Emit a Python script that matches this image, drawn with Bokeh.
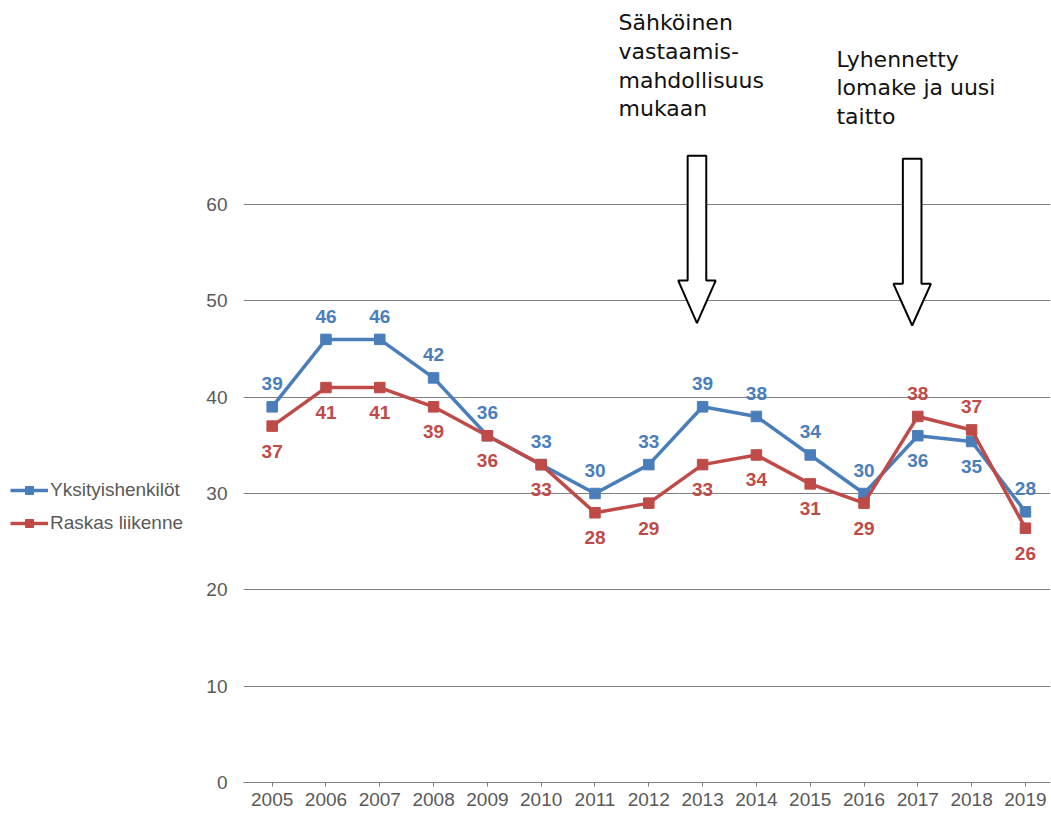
from bokeh.plotting import figure
from bokeh.layouts import row
from bokeh.models import Range1d, FixedTicker, Legend, LegendItem, ColumnDataSource
from bokeh.core.properties import value
from bokeh.embed import file_html
from bokeh.resources import INLINE

# ---------------- data ----------------
years = [2005, 2006, 2007, 2008, 2009, 2010, 2011, 2012, 2013, 2014, 2015, 2016, 2017, 2018, 2019]
yksityishenkilot = [39, 46, 46, 42, 36, 33, 30, 33, 39, 38, 34, 30, 36, 35.4, 28.1]
raskas_liikenne = [37, 41, 41, 39, 36, 33, 28, 29, 33, 34, 31, 29, 38, 36.6, 26.4]
series_names = ["Yksityishenkilöt", "Raskas liikenne"]
y_ticks = [0, 10, 20, 30, 40, 50, 60]

annotation_texts = [
    ["Sähköinen", "vastaamis-", "mahdollisuus", "mukaan"],
    ["Lyhennetty", "lomake ja uusi", "taitto"],
]
annotation_years = [2013, 2017]

# label placement (above / below the point)
blue_place = ["above"] * 12 + ["below", "below", "above"]
red_place = ["below"] * 12 + ["above", "above", "below"]

# ---------------- style ----------------
BLUE = "#4a7ebb"
RED = "#be4b48"
GRID = "#7f7f7f"
TXT = "#595959"
FONT = "Liberation Sans"
H = 814
LEG_W = 200

p = figure(width=1050 - LEG_W, height=H, output_backend="svg", toolbar_location=None,
           x_range=Range1d(2004.467, 2019.466), y_range=Range1d(0, 81.18),
           min_border_left=43, min_border_right=0, min_border_top=0, min_border_bottom=32)
p.outline_line_color = None
p.background_fill_color = "white"
p.border_fill_color = "white"

p.xgrid.visible = False
p.ygrid.ticker = FixedTicker(ticks=y_ticks)
p.ygrid.grid_line_color = GRID
p.ygrid.grid_line_width = 1

p.yaxis.ticker = FixedTicker(ticks=y_ticks)
p.yaxis.axis_line_color = None
p.yaxis.major_tick_line_color = None
p.yaxis.minor_tick_line_color = None
p.yaxis.major_label_standoff = 10
p.yaxis.major_label_text_font = FONT
p.yaxis.major_label_text_font_size = "19px"
p.yaxis.major_label_text_color = TXT

p.xaxis.ticker = FixedTicker(ticks=years)
p.xaxis.axis_line_color = GRID
p.xaxis.axis_line_width = 1
p.xaxis.major_tick_line_color = GRID
p.xaxis.major_tick_in = 0
p.xaxis.major_tick_out = 4
p.xaxis.minor_tick_line_color = None
p.xaxis.major_label_standoff = 6
p.xaxis.major_label_text_font = FONT
p.xaxis.major_label_text_font_size = "19px"
p.xaxis.major_label_text_color = TXT

# ---------------- arrows (annotation geometry) ----------------
arrow_geom = [  # (top, neck, tip) in data units
    (65.06, 52.11, 47.68),
    (64.75, 51.77, 47.44),
]
shaft_half, head_half, x_shift = 0.173, 0.348, -0.105
axs, ays = [], []
for yr, (top, neck, tip) in zip(annotation_years, arrow_geom):
    c = yr + x_shift
    axs.append([c - shaft_half, c + shaft_half, c + shaft_half, c + head_half, c, c - head_half, c - shaft_half])
    ays.append([top, top, neck, neck, tip, neck, neck])
p.patches(axs, ays, fill_color="white", line_color="black", line_width=2)

# annotation texts
text_pos = [(2011.437, 78.9), (2015.487, 75.1)]
pitch = 2.99
tx, ty, tt = [], [], []
for (x0, y0), lines in zip(text_pos, annotation_texts):
    for i, line in enumerate(lines):
        tx.append(x0)
        ty.append(y0 - i * pitch)
        tt.append(line)
p.text(x=tx, y=ty, text=tt, text_font=value("DejaVu Sans"), text_font_size="22px",
       text_color="#111111", text_align="left", text_baseline="alphabetic")

# ---------------- series ----------------
colors = [BLUE, RED]
for vals, color, place in [(yksityishenkilot, BLUE, blue_place), (raskas_liikenne, RED, red_place)]:
    p.line(years, vals, line_color=color, line_width=3.5)
    p.scatter(years, vals, marker="square", size=10.5, fill_color=color, line_color=color)
    src = ColumnDataSource(dict(
        x=years, y=vals,
        t=[f"{v:.0f}" for v in vals],
        dy=[-23 if pl == "above" else 25 for pl in place],
    ))
    p.text(x="x", y="y", text="t", y_offset="dy", source=src,
           text_font=value(FONT), text_font_style="bold", text_font_size="19px",
           text_color=color, text_align="center", text_baseline="middle")

# ---------------- legend (separate panel on the left) ----------------
lp = figure(width=LEG_W, height=H, output_backend="svg", toolbar_location=None,
            x_range=Range1d(0, 1), y_range=Range1d(0, 1),
            min_border_left=0, min_border_right=0, min_border_top=0, min_border_bottom=0)
lp.axis.visible = False
lp.grid.visible = False
lp.outline_line_color = None
items = []
for name, color in zip(series_names, colors):
    # renderers kept outside the visible range; they only feed the legend glyphs
    lr = lp.line(x=[2, 3], y=[2, 3], line_color=color, line_width=3.5)
    sr = lp.scatter(x=[2, 3], y=[2, 3], marker="square", size=10.5, fill_color=color, line_color=color)
    items.append(LegendItem(label=name, renderers=[lr, sr]))
legend = Legend(
    items=items, location=(10, 248), orientation="vertical",
    glyph_width=38, glyph_height=20, label_height=20, spacing=11,
    padding=0, margin=0, label_standoff=2,
    border_line_color=None, background_fill_alpha=0,
    label_text_font=FONT, label_text_font_size="19px", label_text_color=TXT,
)
lp.add_layout(legend)

layout = row(lp, p)
open("out.html", "w").write(file_html(layout, INLINE))
